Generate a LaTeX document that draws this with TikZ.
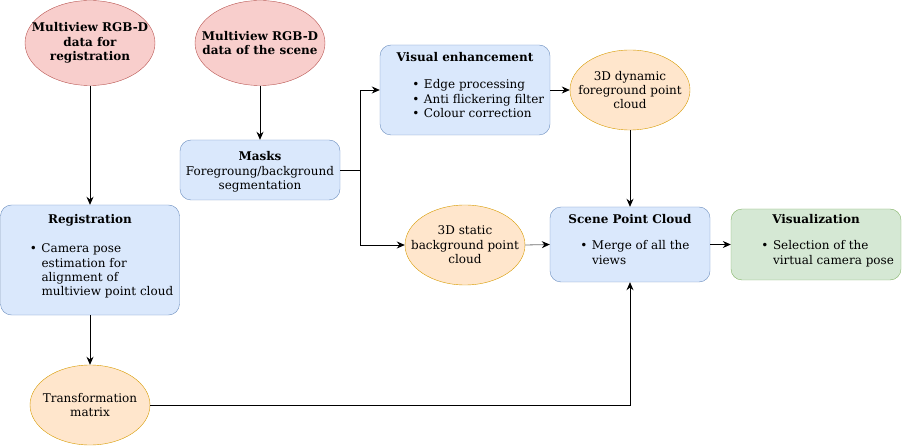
\documentclass[tikz,border=0pt]{standalone}
\usepackage{fontspec}
\setmainfont{DejaVu Serif}
\usetikzlibrary{shapes.geometric,arrows.meta}
\definecolor{redfill}{HTML}{F8CECC}
\definecolor{redline}{HTML}{B85450}
\definecolor{bluefill}{HTML}{DAE8FC}
\definecolor{blueline}{HTML}{6C8EBF}
\definecolor{orangefill}{HTML}{FFE6CC}
\definecolor{orangeline}{HTML}{D79B00}
\definecolor{greenfill}{HTML}{D5E8D4}
\definecolor{greenline}{HTML}{82B366}
\newcommand{\bul}{\makebox[10pt][c]{\textbullet}}
\newcommand{\blist}[1]{\begin{tabular}[t]{@{}l@{\hspace{3pt}}l@{}}#1\end{tabular}}
\tikzset{
  every node/.style={font=\fontsize{12}{14.4}\selectfont},
  srcell/.style={ellipse,draw=redline,fill=redfill,minimum width=130,minimum height=85,inner sep=0},
  dataell/.style={ellipse,draw=orangeline,fill=orangefill,minimum width=120,minimum height=80,inner sep=0},
  procbox/.style={rectangle,rounded corners=11pt,draw=blueline,fill=bluefill,inner sep=0},
  visbox/.style={rectangle,rounded corners=11pt,draw=greenline,fill=greenfill,inner sep=0},
  txt/.style={align=center,inner sep=0},
  ttl/.style={anchor=base,inner sep=0,font=\fontsize{12}{14.4}\selectfont\bfseries},
  lst/.style={anchor=base west,inner sep=0},
  flow/.style={-{Stealth[length=8pt,width=7pt,color=black]},line width=0.8pt}
}
\begin{document}
\begin{tikzpicture}[x=1pt,y=-1pt]
\useasboundingbox (0,0) rectangle (902,446);
% inputs
\node[srcell] (regdata) at (90,43) {};
\node[txt,font=\fontsize{12}{14.4}\selectfont\bfseries] (regdatat) at (regdata) {Multiview RGB-D\\data for\\registration};
\node[srcell] (scene) at (260,43) {};
\node[txt,font=\fontsize{12}{14.4}\selectfont\bfseries] (scenet) at (scene) {Multiview RGB-D\\data of the scene};
% processing blocks
\node[procbox,minimum width=160,minimum height=60] (masks) at (260,170) {};
\node[txt] (maskst) at ([yshift=-2pt]masks) {\textbf{Masks}\\Foregroung/background\\segmentation};
\node[procbox,minimum width=170,minimum height=90] (enh) at (465,90) {};
\node[ttl] (enht) at ([yshift=-16.5pt]enh.north) {Visual enhancement};
\node[lst] (enhl) at ([xshift=31pt,yshift=-44pt]enh.north west) {\blist{\bul & Edge processing\\ \bul & Anti flickering filter\\ \bul & Colour correction}};
\node[procbox,minimum width=179,minimum height=110] (reg) at (90,260) {};
\node[ttl] (regt) at ([yshift=-18.5pt]reg.north) {Registration};
\node[lst] (regl) at ([xshift=28pt,yshift=-48pt]reg.north west) {\blist{\bul & Camera pose\\ & estimation for\\ & alignment of\\ & multiview point cloud}};
\node[procbox,minimum width=160,minimum height=75] (spc) at (630,244.5) {};
\node[ttl] (spct) at ([yshift=-16.5pt]spc.north) {Scene Point Cloud};
\node[lst] (spcl) at ([xshift=29pt,yshift=-43pt]spc.north west) {\blist{\bul & Merge of all the\\ & views}};
\node[visbox,minimum width=170,minimum height=71] (vis) at (816,244.5) {};
\node[ttl] (vist) at ([yshift=-14.5pt]vis.north) {Visualization};
\node[lst] (visl) at ([xshift=29pt,yshift=-41pt]vis.north west) {\blist{\bul & Selection of the\\ & virtual camera pose}};
% point clouds
\node[dataell] (dyn) at (630,90) {};
\node[txt] (dynt) at (dyn) {3D dynamic\\foreground point\\cloud};
\node[dataell] (static) at (465,245) {};
\node[txt] (statict) at (static) {3D static\\background point\\cloud};
\node[dataell] (tmat) at (90,405) {};
\node[txt] (tmatt) at (tmat) {Transformation\\matrix};
% connectors
\coordinate (split) at ([xshift=20pt]masks.east);
\draw[flow] (regdata.south) -- (reg.north);
\draw[flow] (scene.south) -- (masks.north);
\draw[line width=0.8pt] (masks.east) -- (split);
\draw[flow] (split) |- (enh.west);
\draw[flow] (split) |- (static.west);
\draw[flow] (enh.east) -- (dyn.west);
\draw[flow] (dyn.south) -- (spc.north);
\draw[flow,draw=black!55] (static.east) -- (spc.west);
\draw[flow] (spc.east) -- (vis.west);
\draw[flow] (reg.south) -- (tmat.north);
\draw[flow] (tmat.east) -| (spc.south);
\end{tikzpicture}
\end{document}
